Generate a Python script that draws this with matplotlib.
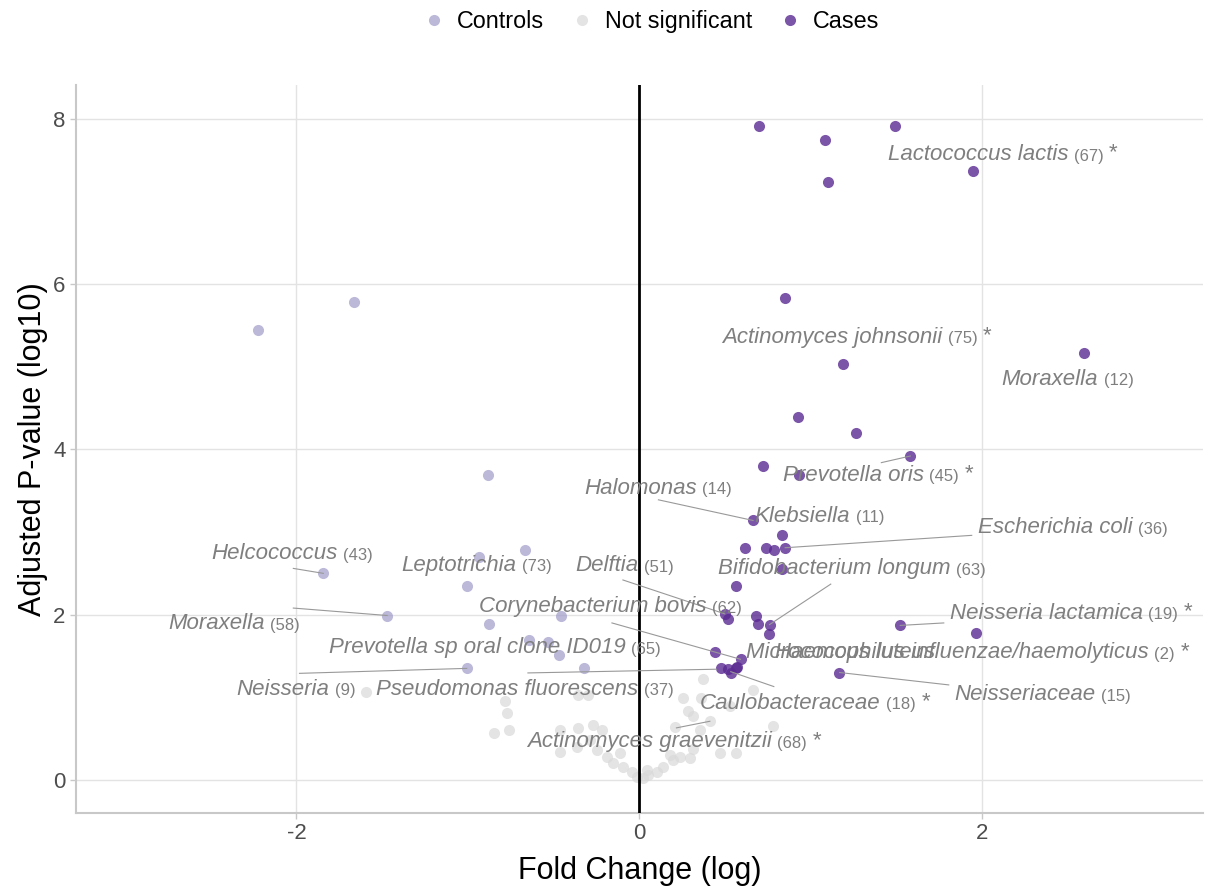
import matplotlib
matplotlib.use("Agg")
import matplotlib.pyplot as plt
from matplotlib.lines import Line2D

plt.rcParams["font.family"] = ["Liberation Sans", "DejaVu Sans"]
plt.rcParams["axes.unicode_minus"] = False

# fold change (log) / adjusted p-value (log10) per taxon
cases_fc = [0.695, 1.085, 1.493, 1.100, 1.943, 0.848, 2.590, 1.186, 0.924, 1.263,
            1.580, 0.720, 0.929, 0.663, 0.834, 0.615, 0.741, 0.784, 0.850, 0.832,
            0.562, 0.500, 0.518, 0.679, 0.689, 0.759, 0.755, 0.442, 0.590, 0.475,
            0.518, 0.562, 0.537, 0.570, 1.164, 1.521, 1.961]
cases_p = [7.91, 7.74, 7.91, 7.24, 7.37, 5.83, 5.17, 5.03, 4.39, 4.20,
           3.92, 3.80, 3.69, 3.14, 2.97, 2.81, 2.81, 2.78, 2.81, 2.55,
           2.35, 2.01, 1.95, 1.99, 1.89, 1.87, 1.77, 1.55, 1.46, 1.35,
           1.34, 1.35, 1.29, 1.37, 1.30, 1.87, 1.78]

controls_fc = [-2.225, -1.664, -0.881, -0.666, -0.934, -1.843, -1.005, -1.471,
               -0.879, -0.457, -0.642, -0.531, -0.471, -1.007, -0.322]
controls_p = [5.45, 5.79, 3.69, 2.78, 2.70, 2.50, 2.35, 1.99,
              1.89, 1.99, 1.69, 1.67, 1.51, 1.35, 1.35]

ns_fc = [-1.594, -0.784, -0.774, -0.846, -0.758, -0.463, -0.357, -0.269, -0.220,
         -0.357, -0.298, -0.463, -0.366, -0.249, -0.191, -0.153, -0.094, -0.045,
         -0.016, 0.022, 0.051, 0.100, 0.139, 0.197, 0.236, 0.294, 0.314, 0.353,
         0.411, 0.284, 0.314, 0.255, 0.372, 0.362, 0.207, 0.469, 0.566, 0.663,
         0.780, 0.527, -0.114, -0.288, 0.042, 0.178]
ns_p = [1.06, 0.95, 0.81, 0.57, 0.61, 0.61, 0.63, 0.67, 0.61,
        1.03, 1.03, 0.34, 0.40, 0.36, 0.28, 0.20, 0.16, 0.10,
        0.04, 0.02, 0.06, 0.10, 0.16, 0.24, 0.28, 0.26, 0.38, 0.61,
        0.71, 0.83, 0.77, 0.99, 1.22, 0.99, 0.64, 0.32, 0.32, 1.09,
        0.65, 0.89, 0.32, 0.48, 0.12, 0.30]

# repelled labels: text anchor (left, middle) and optional leader segment
lab_names = ["Lactococcus lactis", "Actinomyces johnsonii", "Moraxella",
             "Prevotella oris", "Halomonas", "Klebsiella", "Escherichia coli",
             "Bifidobacterium longum", "Delftia", "Corynebacterium bovis",
             "Neisseria lactamica", "Micrococcus luteus",
             "Haemophilus influenzae/haemolyticus", "Neisseriaceae",
             "Caulobacteraceae", "Actinomyces graevenitzii", "Helcococcus",
             "Leptotrichia", "Moraxella", "Prevotella sp oral clone ID019",
             "Neisseria", "Pseudomonas fluorescens"]
lab_counts = ["67", "75", "12", "45", "14", "11", "36", "63", "51", "62", "19",
              "", "2", "15", "18", "68", "43", "73", "58", "65", "9", "37"]
lab_star = [True, True, False, True, False, False, False, False, False, False,
            True, False, True, False, True, True, False, False, False, False,
            False, False]
lab_x = [1.448, 0.481, 2.113, 0.836, -0.323, 0.673, 1.973, 0.457, -0.376,
         -0.935, 1.809, 0.620, 0.790, 1.838, 0.352, -0.656, -2.497, -1.390,
         -2.747, -1.809, -2.351, -1.535]
lab_y = [7.57, 5.36, 4.85, 3.69, 3.53, 3.19, 3.05, 2.56, 2.59, 2.10, 2.02,
         1.54, 1.54, 1.03, 0.93, 0.46, 2.74, 2.60, 1.89, 1.60, 1.10, 1.10]

seg_x0 = [1.411, 0.111, 1.938, 1.116, -0.160, -0.096, 1.804, 1.775, 0.784,
          -2.018, -2.018, -1.982, -0.650, 0.216]
seg_y0 = [3.84, 3.39, 2.96, 2.37, 1.90, 2.42, 1.15, 1.90, 1.13,
          2.56, 2.08, 1.29, 1.295, 0.63]
seg_x1 = [1.580, 0.663, 0.850, 0.759, 0.590, 0.498, 1.168, 1.521, 0.533,
          -1.843, -1.471, -1.007, 0.450, 0.411]
seg_y1 = [3.92, 3.14, 2.81, 1.88, 1.46, 2.01, 1.30, 1.87, 1.31,
          2.50, 1.99, 1.35, 1.34, 0.71]

col_cases = "#5a2a92"
col_controls = "#9e9ac8"
col_ns = "#d9d9d9"
col_label = "#7f7f7f"

fig = plt.figure(figsize=(12.05, 8.93), dpi=100)
ax = fig.add_axes([0.0631, 0.0896, 0.9353, 0.8152])

ax.scatter(ns_fc, ns_p, s=64, color=col_ns, alpha=0.7, linewidths=0, zorder=2)
ax.scatter(controls_fc, controls_p, s=64, color=col_controls, alpha=0.7,
           linewidths=0, zorder=2)
ax.scatter(cases_fc, cases_p, s=64, color=col_cases, alpha=0.8,
           linewidths=0, zorder=2)
ax.axvline(0, color="black", lw=2, zorder=3)

for x0, y0, x1, y1 in zip(seg_x0, seg_y0, seg_x1, seg_y1):
    ax.plot([x0, x1], [y0, y1], color="#999999", lw=0.8, zorder=3)

for name, cnt, star, x, y in zip(lab_names, lab_counts, lab_star, lab_x, lab_y):
    t = ax.text(x, y, name, style="italic", fontsize=16, color=col_label,
                ha="left", va="center", zorder=4)
    last = t
    if cnt:
        last = ax.annotate(f"({cnt})", xy=(1, 0), xycoords=t, xytext=(4, 1),
                           textcoords="offset points", fontsize=12,
                           color=col_label, ha="left", va="bottom", zorder=4)
    if star:
        ax.annotate("*", xy=(1, 0), xycoords=last, xytext=(4, 0),
                    textcoords="offset points", fontsize=16, color=col_label,
                    ha="left", va="bottom", zorder=4)

ax.set_xlim(-3.285, 3.287)
ax.set_ylim(-0.40, 8.41)
ax.set_xticks([-2, 0, 2])
ax.set_yticks([0, 2, 4, 6, 8])
ax.grid(True, color="#e3e3e3", lw=1)
ax.set_axisbelow(True)
for side in ["top", "right"]:
    ax.spines[side].set_visible(False)
for side in ["left", "bottom"]:
    ax.spines[side].set_color("#c8c8c8")
    ax.spines[side].set_linewidth(1.5)
ax.tick_params(colors="#c8c8c8", length=4, width=1, labelsize=16,
               labelcolor="#4d4d4d")
ax.set_xlabel("Fold Change (log)", fontsize=22, labelpad=8)
ax.set_ylabel("Adjusted P-value (log10)", fontsize=22, labelpad=4)

handles = [Line2D([], [], marker="o", ls="", markersize=8, color=c, alpha=a,
                  markeredgewidth=0)
           for c, a in [(col_controls, 0.7), (col_ns, 0.7), (col_cases, 0.8)]]
fig.legend(handles, ["Controls", "Not significant", "Cases"], loc="upper center",
           bbox_to_anchor=(0.54, 1.012), ncol=3, frameon=False, fontsize=16.8,
           handlelength=1.0, handletextpad=0.5, columnspacing=1.1)

fig.savefig("out.png", dpi=100, facecolor="white")
